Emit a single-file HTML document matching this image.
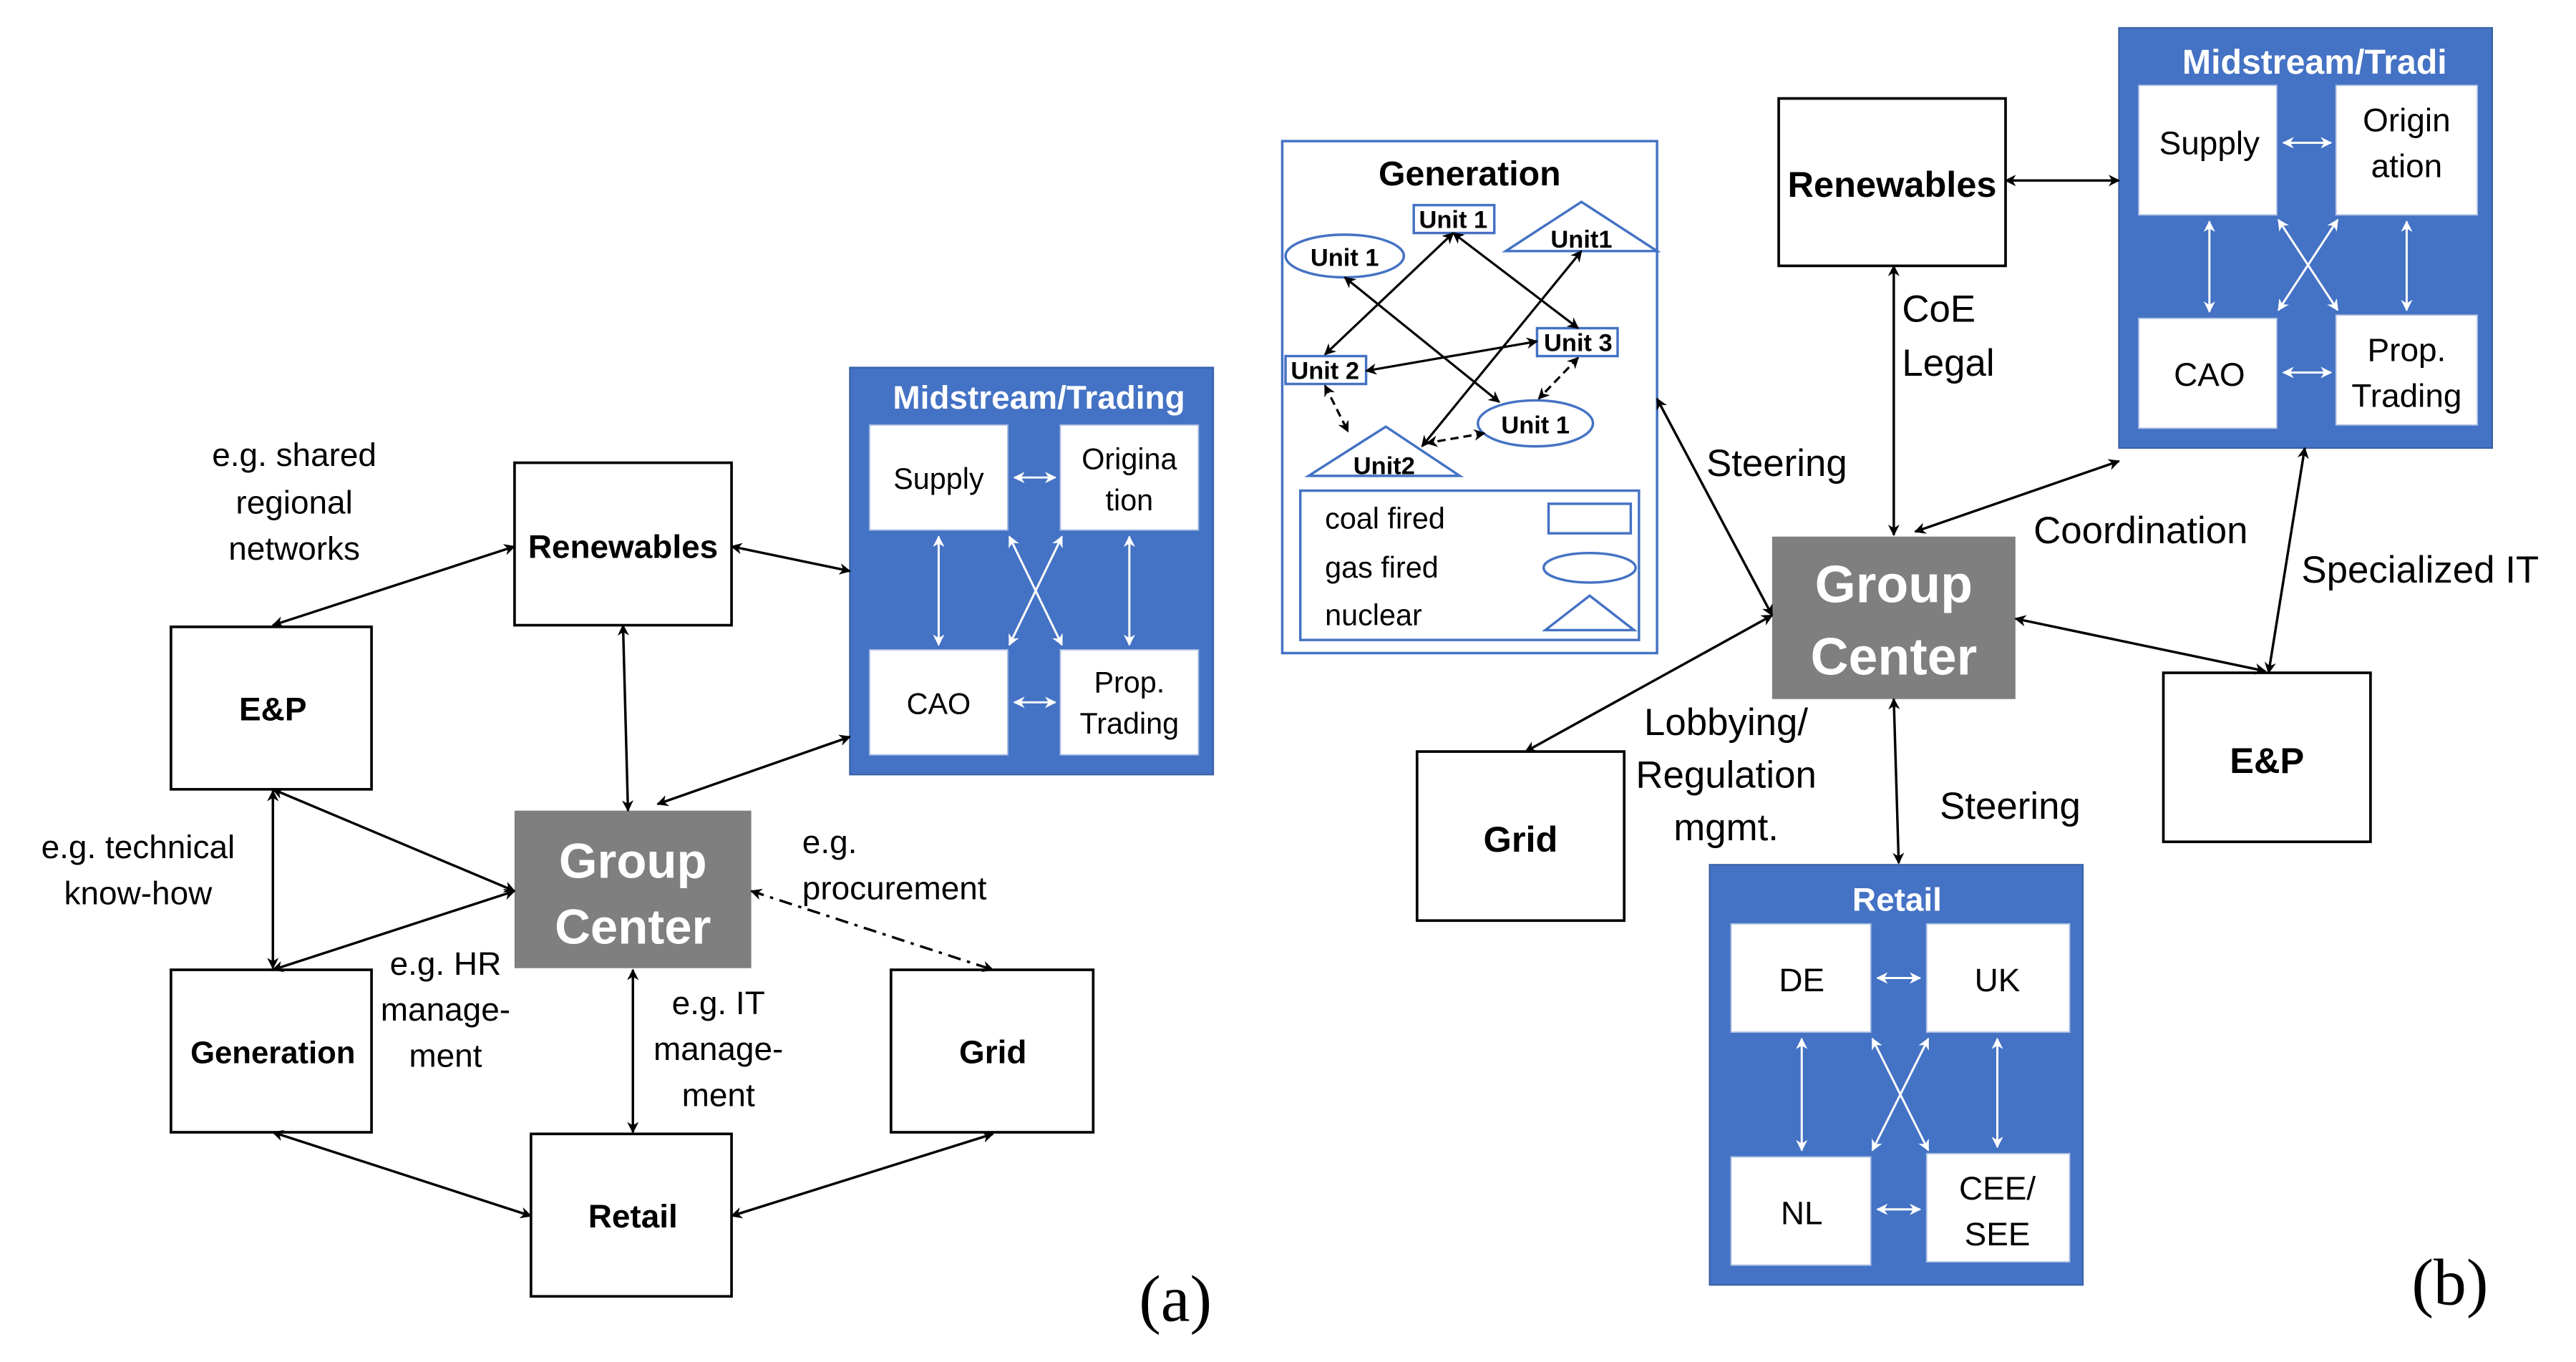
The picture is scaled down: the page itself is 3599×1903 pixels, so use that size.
<!DOCTYPE html>
<html><head><meta charset="utf-8"><style>
html,body{margin:0;padding:0;background:#fff;}
svg{display:block;}
text{font-family:"Liberation Sans",sans-serif;}
</style></head><body>
<svg width="3599" height="1903" viewBox="0 0 1567 830" preserveAspectRatio="none" xmlns="http://www.w3.org/2000/svg">
<defs>
<marker id="a" viewBox="0 0 10 10" refX="9" refY="5" markerWidth="7" markerHeight="7" orient="auto-start-reverse" markerUnits="userSpaceOnUse"><path d="M0,0 L10,5 L0,10 L3,5 z" fill="#000"/></marker>
<marker id="w" viewBox="0 0 10 10" refX="9" refY="5" markerWidth="7" markerHeight="7" orient="auto-start-reverse" markerUnits="userSpaceOnUse"><path d="M0,0 L10,5 L0,10 L3,5 z" fill="#fff"/></marker>
</defs>
<rect width="1567" height="830" fill="#fff"/>

<!-- ===== (a) ===== -->
<g stroke="#000" stroke-width="1.6" fill="#fff">
<rect x="313" y="282" width="132" height="99"/>
<rect x="104" y="382" width="122" height="99"/>
<rect x="104" y="591" width="122" height="99"/>
<rect x="542" y="591" width="123" height="99"/>
<rect x="323" y="691" width="122" height="99"/>
</g>
<rect x="313" y="494" width="144" height="96" fill="#7f7f7f"/>
<rect x="517" y="224" width="221" height="248" fill="#4472c4" stroke="#3a62a8" stroke-width="1"/>
<g fill="#fff" stroke="#a9bde3" stroke-width="0.8">
<rect x="529" y="259" width="84" height="64"/><rect x="645" y="259" width="84" height="64"/>
<rect x="529" y="396" width="84" height="64"/><rect x="645" y="396" width="84" height="64"/>
</g>
<g stroke="#fff" stroke-width="1.3" marker-start="url(#w)" marker-end="url(#w)">
<line x1="617" y1="291" x2="642" y2="291"/><line x1="617" y1="428" x2="642" y2="428"/>
<line x1="571" y1="327" x2="571" y2="393"/><line x1="687" y1="327" x2="687" y2="393"/>
<line x1="614" y1="327" x2="646" y2="393"/><line x1="646" y1="327" x2="614" y2="393"/>
</g>
<g stroke="#000" stroke-width="1.5" marker-start="url(#a)" marker-end="url(#a)">
<line x1="445" y1="333" x2="517" y2="348"/>
<line x1="166" y1="381" x2="313" y2="333"/>
<line x1="379" y1="381" x2="382" y2="494"/>
<line x1="400" y1="490" x2="517" y2="449"/>
<line x1="166" y1="481" x2="313" y2="543"/>
<line x1="166" y1="591" x2="313" y2="543"/>
<line x1="166" y1="482" x2="166" y2="590"/>
<line x1="385" y1="591" x2="385" y2="690"/>
<line x1="457" y1="543" x2="604" y2="591" stroke-dasharray="8,4,2,4"/>
<line x1="166" y1="690" x2="323" y2="741"/>
<line x1="445" y1="741" x2="604" y2="691"/>
</g>
<g font-size="20" text-anchor="middle" fill="#000">
<text x="379" y="340" font-weight="bold">Renewables</text>
<text x="166" y="439" font-weight="bold">E&amp;P</text>
<text x="166" y="648" font-weight="bold" font-size="19">Generation</text>
<text x="604" y="648" font-weight="bold">Grid</text>
<text x="385" y="748" font-weight="bold">Retail</text>
<text x="385" y="535" font-weight="bold" font-size="30" fill="#fff">Group</text>
<text x="385" y="575" font-weight="bold" font-size="30" fill="#fff">Center</text>
<text x="632" y="249" font-weight="bold" font-size="20" fill="#fff">Midstream/Trading</text>
<text x="571" y="298" font-size="18">Supply</text>
<text x="687" y="286" font-size="18">Origina</text>
<text x="687" y="311" font-size="18">tion</text>
<text x="571" y="435" font-size="18">CAO</text>
<text x="687" y="422" font-size="18">Prop.</text>
<text x="687" y="447" font-size="18">Trading</text>
<g font-size="20">
<text x="179" y="284">e.g. shared</text><text x="179" y="313">regional</text><text x="179" y="341">networks</text>
<text x="84" y="523">e.g. technical</text><text x="84" y="551">know-how</text>
<text x="271" y="594">e.g. HR</text><text x="271" y="622">manage-</text><text x="271" y="650">ment</text>
<text x="437" y="618">e.g. IT</text><text x="437" y="646">manage-</text><text x="437" y="674">ment</text>
</g>
<g font-size="20" text-anchor="start"><text x="488" y="520">e.g.</text><text x="488" y="548">procurement</text></g>
<text x="715" y="805" style="font-family:'Liberation Serif',serif;font-size:40px">(a)</text>
</g>

<!-- ===== (b) ===== -->
<rect x="780" y="86" width="228" height="312" fill="#fff" stroke="#4472c4" stroke-width="1.5"/>
<g fill="none" stroke="#4472c4" stroke-width="1.5">
<rect x="860" y="125" width="49" height="17"/>
<rect x="782" y="217" width="49" height="17"/>
<rect x="935" y="200" width="49" height="17"/>
<ellipse cx="818" cy="156" rx="36" ry="13"/>
<ellipse cx="934" cy="258" rx="35" ry="14"/>
<path d="M962,123 L1008,153 L916,153 Z"/>
<path d="M843,260 L888,290 L796,290 Z"/>
<rect x="791" y="299" width="206" height="91"/>
<rect x="942" y="307" width="50" height="18"/>
<ellipse cx="967" cy="346" rx="28" ry="9"/>
<path d="M967,363 L994,384 L940,384 Z"/>
</g>
<g stroke="#000" stroke-width="1.4" marker-start="url(#a)" marker-end="url(#a)">
<line x1="884" y1="142" x2="806" y2="216"/>
<line x1="884" y1="142" x2="960" y2="200"/>
<line x1="818" y1="169" x2="912" y2="245"/>
<line x1="831" y1="226" x2="935" y2="208"/>
<line x1="962" y1="153" x2="865" y2="272"/>
<g stroke-dasharray="5,3">
<line x1="806" y1="235" x2="820" y2="263"/>
<line x1="903" y1="264" x2="868" y2="270"/>
<line x1="960" y1="218" x2="936" y2="243"/>
</g>
</g>
<g font-weight="bold" font-size="15" text-anchor="middle" fill="#000">
<text x="884" y="139">Unit 1</text>
<text x="806" y="231">Unit 2</text>
<text x="960" y="214">Unit 3</text>
<text x="818" y="162">Unit 1</text>
<text x="934" y="264">Unit 1</text>
<text x="962" y="151">Unit1</text>
<text x="842" y="289">Unit2</text>
<text x="894" y="113" font-size="21">Generation</text>
</g>
<g font-size="18" fill="#000"><text x="806" y="322">coal fired</text><text x="806" y="352">gas fired</text><text x="806" y="381">nuclear</text></g>

<g stroke="#000" stroke-width="1.6" fill="#fff">
<rect x="1082" y="60" width="138" height="102"/>
<rect x="862" y="458" width="126" height="103"/>
<rect x="1316" y="410" width="126" height="103"/>
</g>
<rect x="1078" y="327" width="148" height="99" fill="#7f7f7f"/>
<rect x="1289" y="17" width="227" height="256" fill="#4472c4" stroke="#3a62a8" stroke-width="1"/>
<rect x="1040" y="527" width="227" height="256" fill="#4472c4" stroke="#3a62a8" stroke-width="1"/>
<g fill="#fff" stroke="#a9bde3" stroke-width="0.8">
<rect x="1301" y="52" width="84" height="79"/><rect x="1421" y="52" width="86" height="79"/>
<rect x="1301" y="194" width="84" height="67"/><rect x="1421" y="192" width="86" height="67"/>
<rect x="1053" y="563" width="85" height="66"/><rect x="1172" y="563" width="87" height="66"/>
<rect x="1053" y="705" width="85" height="66"/><rect x="1172" y="703" width="87" height="66"/>
</g>
<g stroke="#fff" stroke-width="1.3" marker-start="url(#w)" marker-end="url(#w)">
<line x1="1389" y1="87" x2="1418" y2="87"/><line x1="1389" y1="227" x2="1418" y2="227"/>
<line x1="1344" y1="135" x2="1344" y2="190"/><line x1="1464" y1="135" x2="1464" y2="189"/>
<line x1="1386" y1="134" x2="1422" y2="189"/><line x1="1422" y1="134" x2="1386" y2="189"/>
<line x1="1142" y1="596" x2="1168" y2="596"/><line x1="1142" y1="737" x2="1168" y2="737"/>
<line x1="1096" y1="633" x2="1096" y2="701"/><line x1="1215" y1="633" x2="1215" y2="699"/>
<line x1="1139" y1="633" x2="1173" y2="701"/><line x1="1173" y1="633" x2="1139" y2="701"/>
</g>
<g stroke="#000" stroke-width="1.5" marker-start="url(#a)" marker-end="url(#a)">
<line x1="1220" y1="110" x2="1289" y2="110"/>
<line x1="1152" y1="162" x2="1152" y2="326"/>
<line x1="1008" y1="243" x2="1078" y2="375"/>
<line x1="1165" y1="324" x2="1289" y2="281"/>
<line x1="1402" y1="273" x2="1380" y2="410"/>
<line x1="1226" y1="377" x2="1378" y2="409"/>
<line x1="928" y1="458" x2="1078" y2="375"/>
<line x1="1152" y1="426" x2="1155" y2="526"/>
</g>
<g text-anchor="middle" fill="#000">
<text x="1151" y="120" font-weight="bold" font-size="22">Renewables</text>
<text x="925" y="519" font-weight="bold" font-size="22">Grid</text>
<text x="1379" y="471" font-weight="bold" font-size="22">E&amp;P</text>
<text x="1152" y="367" font-weight="bold" font-size="32" fill="#fff">Group</text>
<text x="1152" y="411" font-weight="bold" font-size="32" fill="#fff">Center</text>
<text x="1408" y="45" font-weight="bold" font-size="21" fill="#fff">Midstream/Tradi</text>
<text x="1154" y="555" font-weight="bold" font-size="20" fill="#fff">Retail</text>
<g font-size="20">
<text x="1344" y="94">Supply</text>
<text x="1464" y="80">Origin</text><text x="1464" y="108">ation</text>
<text x="1344" y="235">CAO</text>
<text x="1464" y="220">Prop.</text><text x="1464" y="248">Trading</text>
<text x="1096" y="604">DE</text><text x="1215" y="604">UK</text>
<text x="1096" y="746">NL</text>
<text x="1215" y="731">CEE/</text><text x="1215" y="759">SEE</text>
</g>
<g font-size="23">
<text x="1050" y="448">Lobbying/</text><text x="1050" y="480">Regulation</text><text x="1050" y="512">mgmt.</text>
</g>
</g>
<g font-size="23" fill="#000">
<text x="1157" y="196">CoE</text><text x="1157" y="229">Legal</text>
<text x="1038" y="290">Steering</text>
<text x="1237" y="331">Coordination</text>
<text x="1400" y="355">Specialized IT</text>
<text x="1180" y="499">Steering</text>
</g>
<text x="1467" y="795" style="font-family:'Liberation Serif',serif;font-size:40px">(b)</text>
</svg>
</body></html>
